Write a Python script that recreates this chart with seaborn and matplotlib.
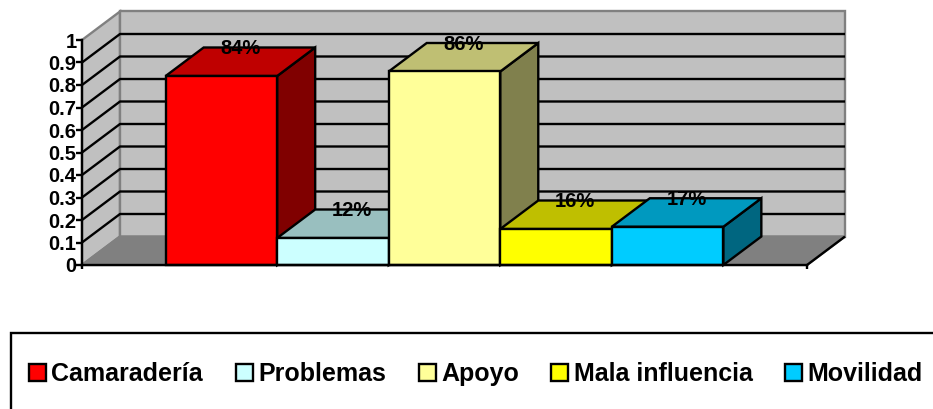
import matplotlib
matplotlib.use("Agg")
import matplotlib.pyplot as plt
import matplotlib.colors as mcolors
from matplotlib.patches import Polygon, Rectangle
from matplotlib.lines import Line2D
import seaborn as sns

categories = ["Camaradería", "Problemas", "Apoyo", "Mala influencia", "Movilidad"]
values = [0.84, 0.12, 0.86, 0.16, 0.17]
value_labels = ["84%", "12%", "86%", "16%", "17%"]
colors = ["#FF0000", "#CCFFFF", "#FFFF99", "#FFFF00", "#00CCFF"]
y_ticks = [0, 0.1, 0.2, 0.3, 0.4, 0.5, 0.6, 0.7, 0.8, 0.9, 1]
y_tick_labels = ["0", "0.1", "0.2", "0.3", "0.4", "0.5", "0.6", "0.7", "0.8", "0.9", "1"]

W, H = 933, 409
AX_L, AX_R, AX_T, AX_B = 82, 807, 40, 265
DEPTH_X_PX, DEPTH_Y_PX = 38, 28.5
LINE = 1.7
WALL, FLOOR, WALL_EDGE = "#C0C0C0", "#808080", "#808080"
FONT = "Liberation Sans"

sns.set_theme(style="white")
plt.rcParams["font.family"] = [FONT, "DejaVu Sans"]
plt.rcParams["font.weight"] = "bold"

fig = plt.figure(figsize=(W / 100, H / 100), dpi=100)
ax = fig.add_axes([AX_L / W, 1 - AX_B / H, (AX_R - AX_L) / W, (AX_B - AX_T) / H])
ax.patch.set_visible(False)

sns.barplot(x=categories, y=values, hue=categories, palette=dict(zip(categories, colors)),
            width=1, dodge=False, saturation=1, legend=False, ax=ax,
            edgecolor="black", linewidth=LINE, order=categories, hue_order=categories)

x_min, x_max = -1.25, 5.25
ax.set_xlim(x_min, x_max)
ax.set_ylim(0, 1)
dx = DEPTH_X_PX * (x_max - x_min) / (AX_R - AX_L)
dy = DEPTH_Y_PX / (AX_B - AX_T)


def add_poly(points, face, edge, z, lw=LINE):
    ax.add_patch(Polygon(points, closed=True, facecolor=face, edgecolor=edge, linewidth=lw,
                         zorder=z, clip_on=False, joinstyle="miter"))


def add_line(xs, ys, color, z, lw=LINE):
    ax.add_line(Line2D(xs, ys, color=color, linewidth=lw, zorder=z, clip_on=False,
                       solid_capstyle="butt"))


# Room: side wall, back wall and floor
add_poly([(x_min, 0), (x_min + dx, dy), (x_min + dx, 1 + dy), (x_min, 1)], WALL, WALL_EDGE, 0.2)
add_poly([(x_min + dx, dy), (x_max + dx, dy), (x_max + dx, 1 + dy), (x_min + dx, 1 + dy)],
         WALL, WALL_EDGE, 0.2)
add_poly([(x_min, 0), (x_max, 0), (x_max + dx, dy), (x_min + dx, dy)], FLOOR, WALL_EDGE, 0.3)
add_line([x_max, x_max + dx], [0, dy], "black", 0.5)

# Gridlines run along the side wall and across the back wall
for tick in y_ticks[1:-1]:
    add_line([x_min, x_min + dx, x_max + dx], [tick, tick + dy, tick + dy], "black", 0.4)

# Extrude each bar; painting left to right keeps the overlaps correct
for i, (container, color) in enumerate(zip(ax.containers, colors)):
    bar = container[0]
    x0, x1 = bar.get_x(), bar.get_x() + bar.get_width()
    h = bar.get_height()
    rgb = mcolors.to_rgb(color)
    top = tuple(c * 0.75 for c in rgb)
    side = tuple(c * 0.5 for c in rgb)
    z = 3 + 2 * i
    add_poly([(x1, 0), (x1 + dx, dy), (x1 + dx, h + dy), (x1, h)], side, "black", z)
    add_poly([(x0, h), (x1, h), (x1 + dx, h + dy), (x0 + dx, h + dy)], top, "black", z)
    bar.set_zorder(z + 1)
    bar.set_clip_on(False)
    bar.set_joinstyle("miter")
    ax.text((x0 + x1 + dx) / 2, h + dy - 0.006, value_labels[i], ha="center", va="center",
            fontsize=14.5, fontweight="bold", color="black", zorder=30, clip_on=False)

# Axes
ax.set_yticks(y_ticks)
ax.set_yticklabels(y_tick_labels, fontsize=14.5, fontweight="bold", color="black")
ax.set_xticks([x_min, x_max])
ax.set_xticklabels([])
ax.set_xlabel("")
ax.set_ylabel("")
ax.tick_params(axis="y", length=4, width=LINE, color="black", pad=0, left=True)
ax.tick_params(axis="x", length=3, width=LINE, color="black", bottom=True)
for name, spine in ax.spines.items():
    spine.set_visible(name in ("left", "bottom"))
    spine.set_color("black")
    spine.set_linewidth(LINE)
    spine.set_zorder(25)

# Legend box runs past the lower and right edges of the figure
fig.add_artist(Rectangle((10.5 / W, 1 - 411 / H), 940 / W, 78 / H, transform=fig.transFigure,
                         facecolor="white", edgecolor="black", linewidth=LINE, zorder=-1))
handles = [c[0] for c in ax.containers]
fig.legend(handles, categories, loc="center left", bbox_to_anchor=(29 / W, 1 - 374 / H),
           bbox_transform=fig.transFigure, ncol=5, frameon=False, borderpad=0, borderaxespad=0,
           handlelength=0.68, handleheight=0.68, handletextpad=0.22, columnspacing=1.3,
           prop={"family": FONT, "weight": "bold", "size": 18}, labelcolor="black")

fig.savefig("out.png", dpi=100)
